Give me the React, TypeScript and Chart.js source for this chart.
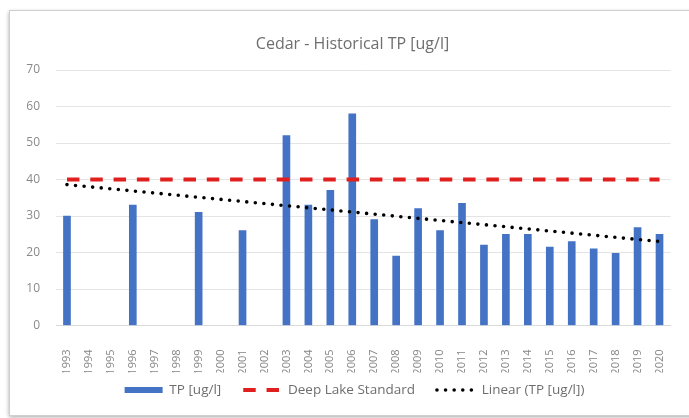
import React, { useEffect, useRef } from 'react';
import { Chart, registerables } from 'chart.js';

Chart.register(...registerables);

const years = [
  '1993', '1994', '1995', '1996', '1997', '1998', '1999', '2000', '2001', '2002',
  '2003', '2004', '2005', '2006', '2007', '2008', '2009', '2010', '2011', '2012',
  '2013', '2014', '2015', '2016', '2017', '2018', '2019', '2020',
];
const tpValues: (number | null)[] = [
  30, null, null, 33, null, null, 31, null, 26, null,
  52, 33, 37, 58, 29, 19, 32, 26, 33.5, 22,
  25, 25, 21.5, 23, 21, 19.8, 26.8, 25,
];
const standardLevel = [40];
const trendEnds = [38.6, 23.0];
const yRange = [0, 70];
const yStep = [10];

const FONT = 'Open Sans';
const TEXT = '#6e6e6e';

const framePlugin = {
  id: 'frame',
  beforeDraw(chart: any) {
    const { ctx } = chart;
    ctx.save();
    ctx.fillStyle = '#ffffff';
    ctx.fillRect(0, 0, chart.width, chart.height);
    ctx.shadowColor = 'rgba(0,0,0,0.35)';
    ctx.shadowBlur = 4;
    ctx.shadowOffsetX = -1;
    ctx.shadowOffsetY = 1;
    ctx.fillStyle = '#ffffff';
    ctx.fillRect(10, 11, 720, 405);
    ctx.shadowColor = 'transparent';
    ctx.strokeStyle = '#cfcfcf';
    ctx.lineWidth = 1;
    ctx.strokeRect(9.5, 10.5, 720, 405);
    ctx.restore();
  },
};

const shiftPlugin = {
  id: 'shift',
  afterLayout(chart: any) {
    const t = chart.titleBlock;
    if (t) {
      t.left += 16;
      t.right += 16;
    }
    const l = chart.legend;
    if (l) {
      const targetTop = 390 - 22 - 6.75;
      const dy = targetTop - l.top;
      l.top += dy;
      l.bottom += dy;
      l.left += 18;
      l.right += 18;
    }
  },
};

export default function App() {
  const canvasRef = useRef<HTMLCanvasElement | null>(null);

  useEffect(() => {
    if (!canvasRef.current) return;
    const n = years.length;
    const chart = new Chart(canvasRef.current, {
      type: 'bar',
      data: {
        labels: years,
        datasets: [
          {
            type: 'bar',
            label: 'TP [ug/l]',
            data: tpValues,
            backgroundColor: '#4472C4',
            borderWidth: 0,
            barThickness: 7,
            order: 3,
          } as any,
          {
            type: 'line',
            label: 'Deep Lake Standard',
            data: years.map(() => standardLevel[0]),
            borderColor: '#e0201e',
            backgroundColor: '#e0201e',
            borderWidth: 4,
            borderDash: [12.5, 10.8],
            pointRadius: 0,
            fill: false,
            order: 1,
          } as any,
          {
            type: 'line',
            label: 'Linear (TP [ug/l])',
            data: years.map((_, i) => (i === 0 ? trendEnds[0] : i === n - 1 ? trendEnds[1] : null)),
            spanGaps: true,
            borderColor: '#000000',
            backgroundColor: '#000000',
            borderWidth: 3.6,
            borderDash: [0, 8.6],
            borderCapStyle: 'round',
            pointRadius: 0,
            fill: false,
            order: 0,
          } as any,
        ],
      },
      options: {
        animation: false,
        responsive: true,
        maintainAspectRatio: false,
        layout: { padding: { left: 0, right: 16, top: 0, bottom: 0 } },
        plugins: {
          title: {
            display: true,
            text: 'Cedar - Historical TP [ug/l]',
            color: TEXT,
            font: { family: FONT, size: 16, weight: 'normal' },
            padding: { top: 35, bottom: 15.8 },
          },
          legend: {
            position: 'bottom',
            labels: {
              usePointStyle: true,
              pointStyleWidth: 38,
              boxHeight: 6,
              padding: 22,
              color: TEXT,
              font: { family: FONT, size: 13.5 },
              generateLabels: (c: any) =>
                c.data.datasets.map((ds: any, i: number) => ({
                  text: ds.label,
                  datasetIndex: i,
                  hidden: false,
                  fillStyle: i === 0 ? ds.backgroundColor : 'transparent',
                  strokeStyle: ds.borderColor || ds.backgroundColor,
                  lineWidth: i === 0 ? 0 : ds.borderWidth,
                  lineDash: ds.borderDash || [],
                  lineCap: ds.borderCapStyle || 'butt',
                  pointStyle: i === 0 ? 'rect' : 'line',
                  fontColor: TEXT,
                })),
            },
          },
          tooltip: { enabled: false },
        },
        scales: {
          x: {
            offset: true,
            grid: { display: false },
            border: { color: '#d9d9d9' },
            ticks: {
              autoSkip: false,
              minRotation: 90,
              maxRotation: 90,
              padding: 16,
              color: '#858585',
              font: { family: FONT, size: 11 },
            },
            afterFit: (s: any) => {
              s.height = 47;
            },
          },
          y: {
            min: yRange[0],
            max: yRange[1],
            ticks: {
              stepSize: yStep[0],
              padding: 16,
              color: '#8a8a8a',
              font: { family: FONT, size: 12 },
            },
            grid: { color: '#e4e4e4', drawTicks: false },
            border: { display: false },
            afterFit: (s: any) => {
              s.width = 56;
            },
          },
        },
      } as any,
      plugins: [framePlugin, shiftPlugin],
    });
    return () => chart.destroy();
  }, []);

  return (
    <div style={{ position: 'fixed', left: 0, top: 0, width: 689, height: 418 }}>
      <canvas ref={canvasRef} />
    </div>
  );
}
